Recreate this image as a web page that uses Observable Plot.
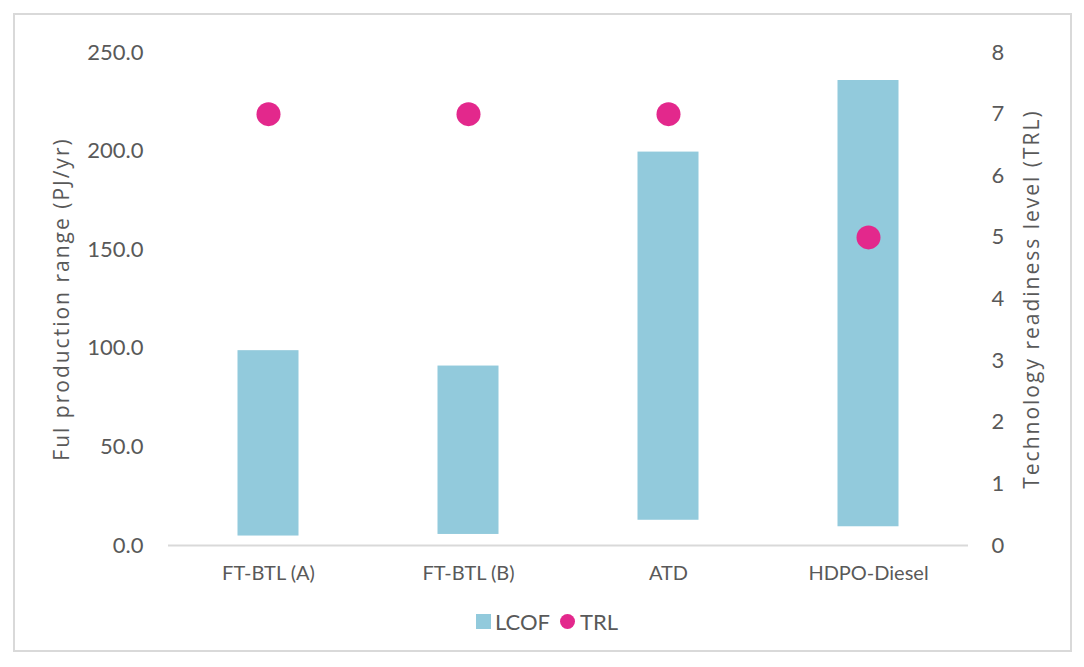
<!DOCTYPE html>
<html>
<head>
<meta charset="utf-8">
<script src="https://cdn.jsdelivr.net/npm/d3@7"></script>
<script src="https://cdn.jsdelivr.net/npm/@observablehq/plot@0.6"></script>
<style>
  body { margin: 0; background: #fff; font-family: Lato, "Open Sans", sans-serif; }
  #frame { position: absolute; left: 13px; top: 13px; width: 1055px; height: 635px; border: 2px solid #d9d9d9; }
  #chart { position: absolute; left: 0; top: 0; }
  #legend { position: absolute; top: 607px; left: 0; width: 1094px; text-align: center; font-size: 22px; color: #595959; }
  #legend span { display: inline-flex; align-items: center; margin: 0 5px; }
  .sw { display: inline-block; width: 15px; height: 15px; background: #92cadc; margin-right: 4px; }
  .dt { display: inline-block; width: 15px; height: 15px; border-radius: 50%; background: #e3288c; margin-right: 5px; }
</style>
</head>
<body>
<div id="frame"></div>
<div id="chart"></div>
<div id="legend"><span><i class="sw"></i>LCOF</span><span><i class="dt"></i>TRL</span></div>
<script>
const categories = ["FT-BTL (A)", "FT-BTL (B)", "ATD", "HDPO-Diesel"];
const lcofLow = [4.8, 5.6, 12.8, 9.5];
const lcofHigh = [98.8, 91.0, 199.5, 235.8];
const trl = [7, 7, 7, 5];
const leftTicks = [0, 50, 100, 150, 200, 250];
const rightTicks = [0, 1, 2, 3, 4, 5, 6, 7, 8];

const leftMax = 250, rightMax = 8;
const toLeft = v => v * leftMax / rightMax;

const rows = categories.map((c, i) => ({cat: c, lo: lcofLow[i], hi: lcofHigh[i], trl: trl[i]}));

const plot = Plot.plot({
  width: 1084,
  height: 600,
  marginLeft: 168,
  marginRight: 116,
  marginTop: 52,
  marginBottom: 55,
  style: {fontFamily: "Lato, 'Open Sans', sans-serif", color: "#595959", background: "transparent"},
  x: {domain: categories, padding: 0},
  y: {domain: [0, leftMax]},
  marks: [
    Plot.barY(rows, {x: "cat", y1: "lo", y2: "hi", fill: "#92cadc", insetLeft: 69.5, insetRight: 69.5}),
    Plot.ruleY([0], {stroke: "#d9d9d9", strokeWidth: 2}),
    Plot.dot(rows, {x: "cat", y: d => toLeft(d.trl), r: 12, fill: "#e3288c"}),
    Plot.axisY({anchor: "left", ticks: leftTicks, tickSize: 0, tickPadding: 25, tickFormat: d3.format(".1f"), fontSize: 22,
      label: "Ful production range (PJ/yr)", labelAnchor: "center", labelArrow: "none", labelOffset: 114}),
    Plot.axisY({anchor: "right", ticks: rightTicks.map(toLeft), tickSize: 0, tickPadding: 23, tickFormat: d => Math.round(d * rightMax / leftMax), fontSize: 22,
      label: "Technology readiness level (TRL)", labelAnchor: "center", labelArrow: "none", labelOffset: 70}),
    Plot.axisX({tickSize: 0, tickPadding: 20, fontSize: 20, label: null})
  ]
});
d3.select(plot).selectAll('[aria-label="y-axis label"]')
  .style("font-family", "'Open Sans', sans-serif")
  .style("font-size", "21px")
  .style("letter-spacing", "2px");
document.getElementById("chart").appendChild(plot);
</script>
</body>
</html>
